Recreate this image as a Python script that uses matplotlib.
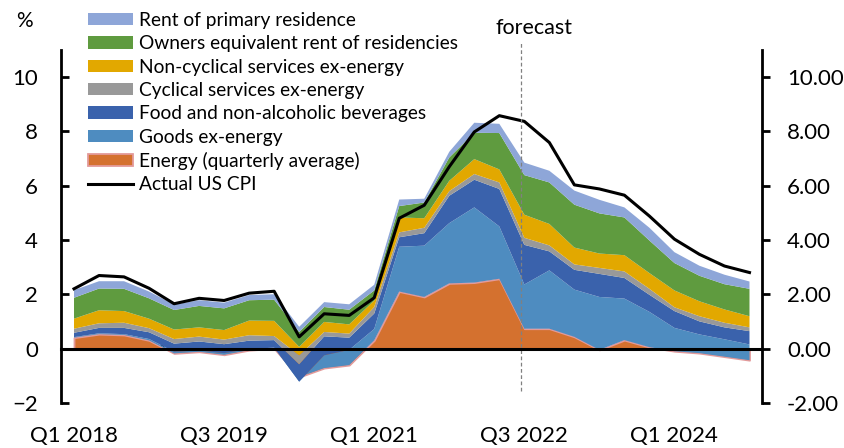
import numpy as np
import matplotlib
matplotlib.use('Agg')
import matplotlib.pyplot as plt
from matplotlib.lines import Line2D

plt.rcParams['font.family'] = ['Lato', 'DejaVu Sans']

#%% DATA
# quarterly, Q1 2018 .. Q4 2024
quarters = [f'Q{q} {y}' for y in range(2018, 2025) for q in range(1, 5)]
tick_labels = ['Q1 2018', 'Q3 2019', 'Q1 2021', 'Q3 2022', 'Q1 2024']

# contributions in percentage points (bottom of the stack first)
energy = [0.40, 0.53, 0.50, 0.30, -0.18, -0.12, -0.23, -0.06, 0.00, -1.05,
          -0.72, -0.61, 0.30, 2.10, 1.90, 2.40, 2.43, 2.57, 0.73, 0.73,
          0.43, -0.05, 0.31, 0.05, -0.10, -0.17, -0.30, -0.43]
goods = [0.02, 0.03, 0.03, 0.05, 0.06, 0.05, 0.06, 0.05, 0.03, -0.17,
         0.47, 0.56, 0.42, 1.65, 1.89, 2.22, 2.77, 1.93, 1.63, 2.15,
         1.74, 1.95, 1.53, 1.30, 0.86, 0.69, 0.64, 0.58]
food = [0.16, 0.20, 0.23, 0.25, 0.30, 0.33, 0.33, 0.30, 0.28, 0.64,
        0.70, 0.45, 0.57, 0.35, 0.46, 1.01, 1.02, 1.38, 1.46, 0.70,
        0.73, 0.85, 0.76, 0.63, 0.62, 0.48, 0.44, 0.49]
cyclical = [0.15, 0.17, 0.19, 0.15, 0.17, 0.18, 0.17, 0.20, 0.15, 0.33,
            0.16, 0.15, 0.24, 0.18, 0.20, 0.17, 0.21, 0.24, 0.26, 0.22,
            0.20, 0.22, 0.24, 0.22, 0.14, 0.19, 0.17, 0.14]
non_cyclical = [0.37, 0.48, 0.43, 0.35, 0.35, 0.34, 0.35, 0.54, 0.56, 0.31,
                0.37, 0.34, 0.24, 0.55, 0.35, 0.38, 0.55, 0.48, 0.85, 0.79,
                0.62, 0.53, 0.60, 0.58, 0.62, 0.55, 0.49, 0.41]
oer = [0.77, 0.80, 0.82, 0.75, 0.72, 0.79, 0.80, 0.75, 0.78, 0.55,
       0.55, 0.54, 0.37, 0.42, 0.58, 0.86, 0.97, 1.34, 1.46, 1.53,
       1.58, 1.48, 1.39, 1.20, 1.01, 0.94, 0.93, 1.01]
rent = [0.28, 0.27, 0.28, 0.25, 0.20, 0.21, 0.21, 0.19, 0.20, 0.19,
        0.18, 0.20, 0.21, 0.24, 0.14, 0.21, 0.37, 0.34, 0.46, 0.43,
        0.52, 0.50, 0.37, 0.47, 0.40, 0.37, 0.35, 0.27]
cpi = [2.20, 2.69, 2.64, 2.22, 1.65, 1.85, 1.77, 2.04, 2.11, 0.43,
       1.28, 1.22, 1.87, 4.80, 5.28, 6.70, 7.98, 8.58, 8.37, 7.59,
       6.03, 5.88, 5.65, 4.88, 4.03, 3.47, 3.04, 2.80]

forecast_start = 17.85   # just before Q3 2022

names = ['Energy (quarterly average)', 'Goods ex-energy', 'Food and non-alcoholic beverages',
         'Cyclical services ex-energy', 'Non-cyclical services ex-energy',
         'Owners equivalent rent of residencies', 'Rent of primary residence']
colors = ['#D4712F', '#4E8CC0', '#3A62AC', '#999999', '#E2A800', '#5F9B3F', '#8EA6D8']


#%% PLOT
W, H = 845, 448
fig = plt.figure(figsize=(W / 100, H / 100), dpi=100)
ax = fig.add_axes([61.5 / W, (H - 402.8) / H, (762 - 61.5) / W, (402.8 - 50) / H])

x = np.arange(len(quarters))
polys = ax.stackplot(x, energy, goods, food, cyclical, non_cyclical, oer, rent,
                     colors=colors, labels=names, linewidth=0, zorder=2)
polys[0].set_edgecolor('#E39A9A')
polys[0].set_linewidth(1.3)

ax.plot(x, cpi, color='black', lw=2.2, zorder=4, solid_joinstyle='round')

# forecast marker
ax.plot([forecast_start, forecast_start], [-1.55, 11.3], color='#808080', lw=0.9,
        ls=(0, (3, 2)), clip_on=False, zorder=5)
ax.text(forecast_start + 0.53, 11.8, 'forecast', ha='center', va='center',
        fontsize=15.5, clip_on=False)

ax.set_xlim(-0.5, len(quarters) - 0.5)
ax.set_ylim(-2, 11)

# axes styling
for s in ['top', 'right']:
    ax.spines[s].set_visible(False)
ax.spines['left'].set_linewidth(2)
ax.spines['bottom'].set_position(('data', 0))
ax.spines['bottom'].set_linewidth(2.2)
ax.spines['bottom'].set_zorder(6)

ax.set_yticks(np.arange(-2, 11, 2))
ax.tick_params(axis='y', direction='in', length=6, width=2, pad=17, labelsize=16)

ax.set_xticks(np.arange(3.5, len(quarters) - 1, 4))
ax.set_xticklabels([])
ax.tick_params(axis='x', direction='in', length=4, width=2.5)

for lab in tick_labels:
    ax.text(quarters.index(lab), -0.095, lab, transform=ax.get_xaxis_transform(),
            ha='center', va='center', fontsize=16)

ax2 = ax.twinx()
ax2.set_ylim(-2, 11)
ax2.set_yticks(np.arange(-2, 11, 2))
ax2.set_yticklabels([f'{v:.2f}' for v in np.arange(-2, 11, 2)])
for s in ['top', 'left', 'bottom']:
    ax2.spines[s].set_visible(False)
ax2.spines['right'].set_linewidth(2)
ax2.tick_params(axis='y', direction='out', length=6, width=2, pad=12, labelsize=16)

fig.text(24 / W, 1 - 21 / H, '%', ha='center', va='center', fontsize=15)

# legend, top series first
handles = list(polys[::-1]) + [Line2D([], [], color='black', lw=2.2)]
labels = names[::-1] + ['Actual US CPI']
fig.legend(handles, labels, loc='upper left', bbox_to_anchor=(88 / W, 1 - 12 / H),
           frameon=False, fontsize=13.8, handlelength=2.35, handleheight=0.62,
           handletextpad=0.3, labelspacing=0.33, borderpad=0, borderaxespad=0)

fig.savefig('out.png', dpi=100)
